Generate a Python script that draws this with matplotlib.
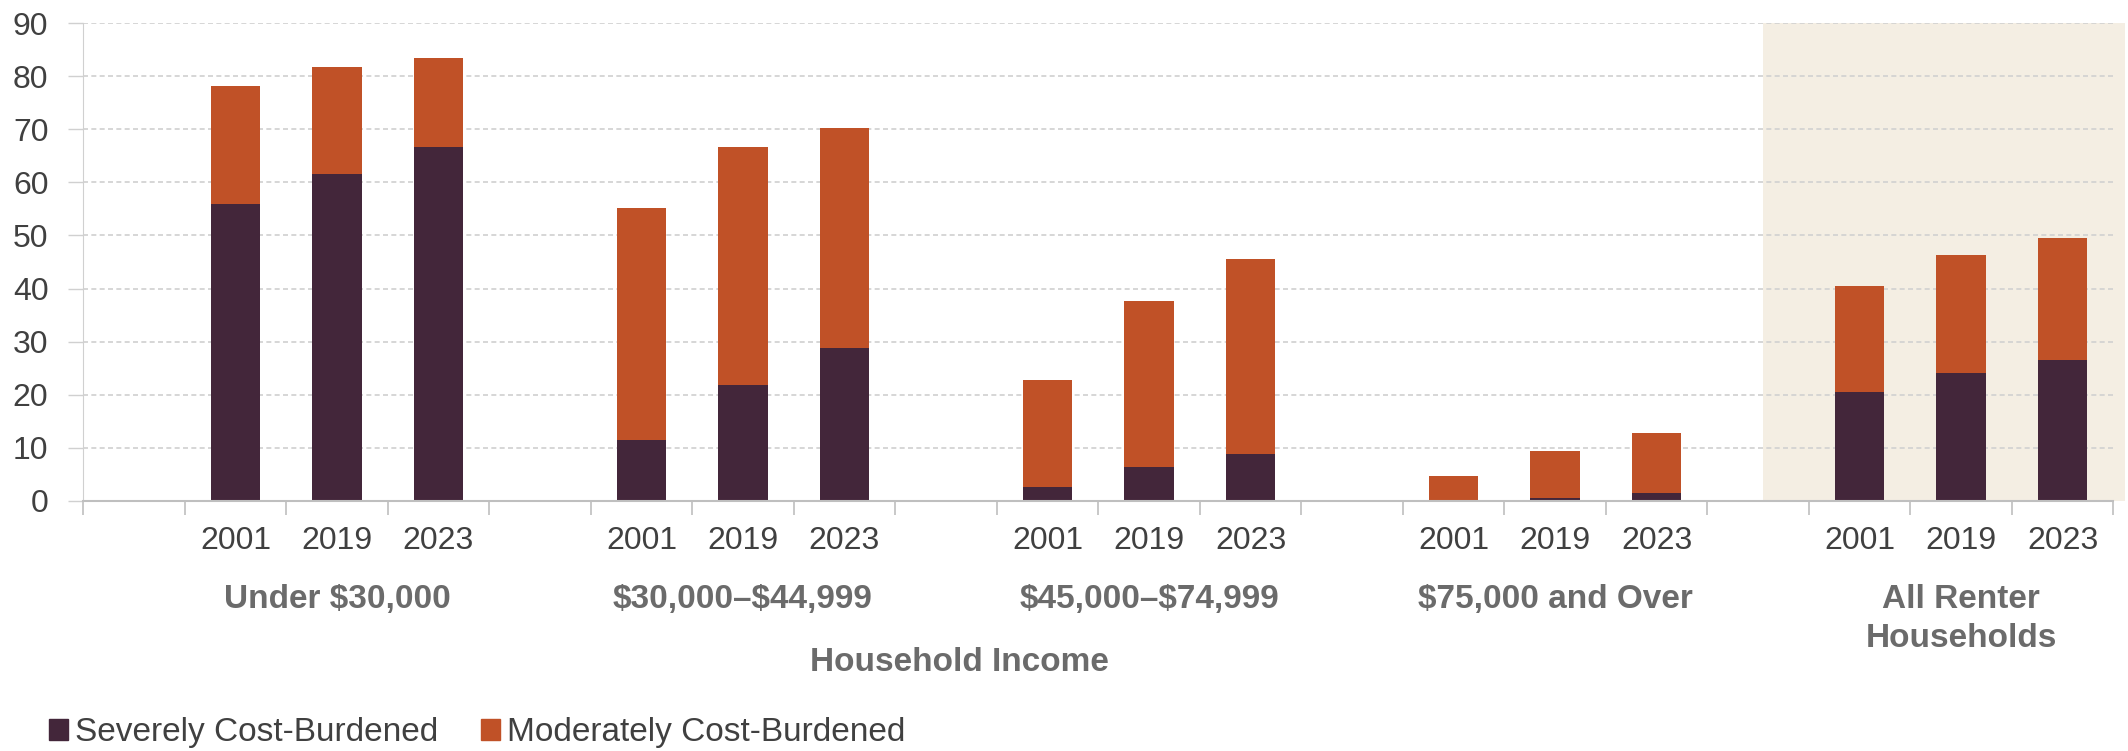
import matplotlib
matplotlib.use("Agg")
import matplotlib.pyplot as plt
import matplotlib.transforms as mtransforms
from matplotlib.patches import Patch

plt.rcParams['font.family'] = ['Liberation Sans', 'DejaVu Sans']

# Данные: доля арендаторов с нагрузкой по жилью (%)
groups = ["Under \\$30,000", "\\$30,000\u2013\\$44,999", "\\$45,000\u2013\\$74,999",
          "\\$75,000 and Over", "All Renter\nHouseholds"]
years = ["2001", "2019", "2023"]
severe = [55.9, 61.5, 66.7,
          11.5, 21.9, 28.7,
          2.5, 6.3, 8.8,
          0.1, 0.6, 1.4,
          20.4, 24.0, 26.5]
total = [78.2, 81.8, 83.4,
         55.2, 66.7, 70.2,
         22.7, 37.7, 45.5,
         4.7, 9.4, 12.8,
         40.5, 46.3, 49.6]
moderate = [t - s for t, s in zip(total, severe)]

c_severe = "#43263A"
c_moderate = "#C05127"
c_shade = "#F4EEE3"
c_text = "#404040"
c_group = "#6b6b6b"

# позиции столбцов: пустой слот перед каждой группой
pos = []
for g in range(len(groups)):
    for k in range(len(years)):
        pos.append(1 + g * 4 + k)

fig = plt.figure(figsize=(21.28, 7.51), dpi=100)
ax = fig.add_axes([0.0391, 0.3333, 0.954, 0.6357])

ax.axvspan(16.05, 19.62, ymin=0, ymax=1, color=c_shade, zorder=0, lw=0, clip_on=False)

ax.bar(pos, severe, width=0.49, color=c_severe, zorder=3, label="Severely Cost-Burdened")
ax.bar(pos, moderate, width=0.49, bottom=severe, color=c_moderate, zorder=3,
       label="Moderately Cost-Burdened")

ax.set_xlim(-0.5, 19.5)
ax.set_ylim(0, 90)
ax.set_yticks(range(0, 91, 10))
ax.yaxis.grid(True, color="#d0d0d0", linestyle=(0, (3, 2)), linewidth=1.2, zorder=1)
ax.set_axisbelow(True)
ax.tick_params(axis='y', labelsize=23, labelcolor=c_text, color="#d0d0d0",
               length=11, width=1, pad=14)

# риски на границах слотов
ax.set_xticks([i - 0.5 for i in range(21)])
ax.set_xticklabels([])
ax.tick_params(axis='x', color="#bfbfbf", length=10, width=1.2)

for s in ["top", "right"]:
    ax.spines[s].set_visible(False)
ax.spines["left"].set_color("#d0d0d0")
ax.spines["bottom"].set_color("#bfbfbf")
ax.spines["bottom"].set_linewidth(1.5)
ax.spines["bottom"].set_zorder(4)

tr = mtransforms.blended_transform_factory(ax.transData, fig.transFigure)
for i, p in enumerate(pos):
    ax.text(p, 0.2796, years[i % 3], transform=tr, ha="center", va="center",
            fontsize=23, color=c_text)
for g, name in enumerate(groups):
    y = 0.2011 if "\n" not in name else 0.1757
    ax.text(2 + g * 4, y, name, transform=tr, ha="center", va="center",
            fontsize=24, fontweight="bold", color=c_group, linespacing=1.32)
ax.text(8.13, 0.1185, "Household Income", transform=tr, ha="center", va="center",
        fontsize=24, fontweight="bold", color=c_group)

handles = [Patch(color=c_severe, label="Severely Cost-Burdened"),
           Patch(color=c_moderate, label="Moderately Cost-Burdened")]
fig.legend(handles=handles, loc="center left", bbox_to_anchor=(0.023, 0.024),
           ncol=2, frameon=False, fontsize=24, labelcolor=c_text,
           handlelength=0.57, handleheight=0.57, handletextpad=0.2,
           columnspacing=1.3, borderpad=0, borderaxespad=0)

fig.savefig("out.png", dpi=100)
